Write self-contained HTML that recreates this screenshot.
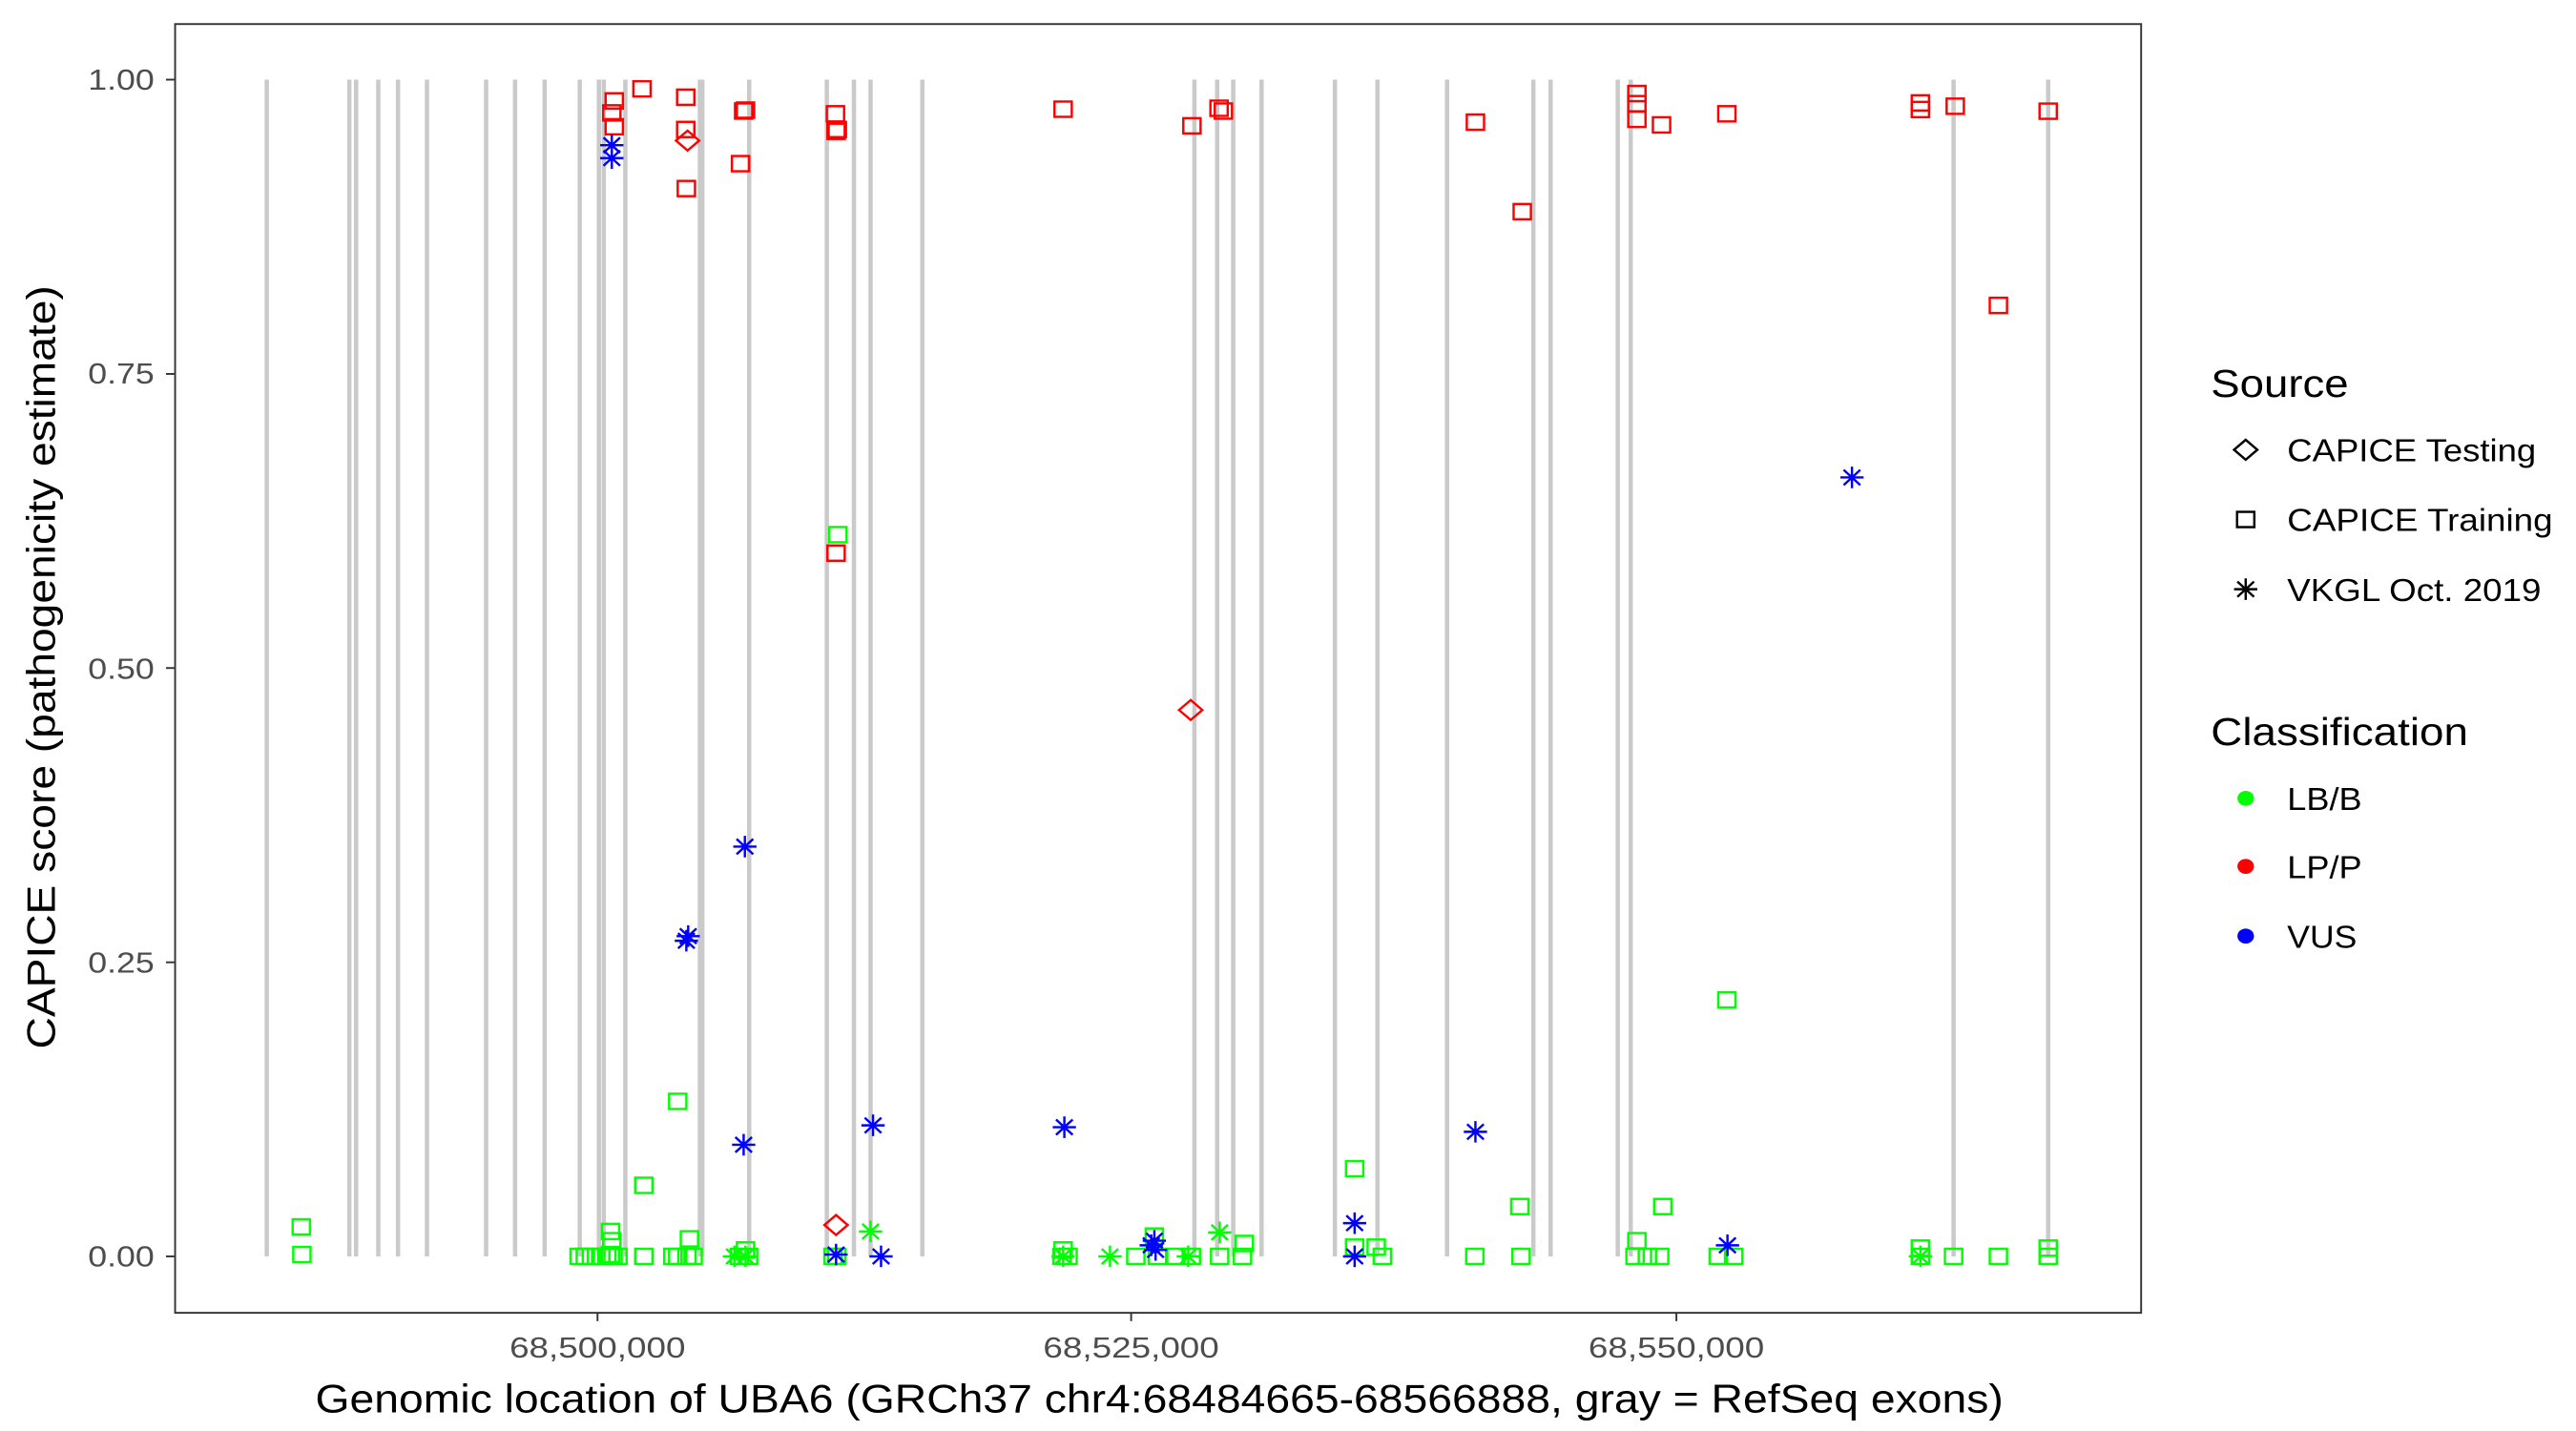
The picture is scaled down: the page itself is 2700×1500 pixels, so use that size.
<!DOCTYPE html>
<html><head><meta charset="utf-8"><style>
html,body{margin:0;padding:0;background:#fff}
svg{display:block}
text{font-family:"Liberation Sans",Arial,sans-serif}
</style></head><body>
<svg id="s" width="2700" height="1500" viewBox="0 0 1552 862.2" preserveAspectRatio="none" xmlns="http://www.w3.org/2000/svg">
<rect x="0" y="0" width="1552" height="862.2" fill="#fff"/>
<g id="ex"></g>
<g id="pts"></g>
<rect x="105.5" y="14.5" width="1184.5" height="776.5" fill="none" stroke="#333" stroke-width="1.1"/>
<g fill="#4d4d4d" font-size="17.5" text-anchor="end">
<text x="93" y="54" textLength="40" lengthAdjust="spacingAndGlyphs">1.00</text>
<text x="93" y="231" textLength="40" lengthAdjust="spacingAndGlyphs">0.75</text>
<text x="93" y="409" textLength="40" lengthAdjust="spacingAndGlyphs">0.50</text>
<text x="93" y="586" textLength="40" lengthAdjust="spacingAndGlyphs">0.25</text>
<text x="93" y="763" textLength="40" lengthAdjust="spacingAndGlyphs">0.00</text>
</g>
<g stroke="#333" stroke-width="1.1">
<line x1="100" x2="105" y1="48" y2="48"/><line x1="100" x2="105" y1="225.3" y2="225.3"/>
<line x1="100" x2="105" y1="402.5" y2="402.5"/><line x1="100" x2="105" y1="579.8" y2="579.8"/>
<line x1="100" x2="105" y1="757" y2="757"/>
<line x1="360" x2="360" y1="791" y2="796"/><line x1="681.5" x2="681.5" y1="791" y2="796"/>
<line x1="1010" x2="1010" y1="791" y2="796"/>
</g>
<g fill="#4d4d4d" font-size="17.5" text-anchor="middle">
<text x="360" y="818" textLength="106" lengthAdjust="spacingAndGlyphs">68,500,000</text>
<text x="681.5" y="818" textLength="106" lengthAdjust="spacingAndGlyphs">68,525,000</text>
<text x="1010" y="818" textLength="106" lengthAdjust="spacingAndGlyphs">68,550,000</text>
</g>
<text x="190" y="851" font-size="24" fill="#000" textLength="1017" lengthAdjust="spacingAndGlyphs">Genomic location of UBA6 (GRCh37 chr4:68484665-68566888, gray = RefSeq exons)</text>
<text transform="translate(33,632) rotate(-90)" font-size="24" fill="#000" textLength="460" lengthAdjust="spacingAndGlyphs">CAPICE score (pathogenicity estimate)</text>
<g font-size="23.5" fill="#000">
<text x="1332" y="239" textLength="83" lengthAdjust="spacingAndGlyphs">Source</text>
<text x="1332" y="449" textLength="155" lengthAdjust="spacingAndGlyphs">Classification</text></g>
<g font-size="19" fill="#000">
<text x="1378" y="278" textLength="150" lengthAdjust="spacingAndGlyphs">CAPICE Testing</text>
<text x="1378" y="320" textLength="160" lengthAdjust="spacingAndGlyphs">CAPICE Training</text>
<text x="1378" y="362" textLength="153" lengthAdjust="spacingAndGlyphs">VKGL Oct. 2019</text>
<text x="1378" y="488" textLength="45" lengthAdjust="spacingAndGlyphs">LB/B</text>
<text x="1378" y="529" textLength="45" lengthAdjust="spacingAndGlyphs">LP/P</text>
<text x="1378" y="571" textLength="42" lengthAdjust="spacingAndGlyphs">VUS</text>
</g>
<g id="leg"></g>
<ellipse cx="1353" cy="481" rx="5" ry="4.5" fill="#00ff00"/>
<ellipse cx="1353" cy="522" rx="5" ry="4.5" fill="#ff0000"/>
<ellipse cx="1353" cy="564" rx="5" ry="4.5" fill="#0000ff"/>
</svg>
<script>
var NS="http://www.w3.org/2000/svg";
function el(p,t,a){var e=document.createElementNS(NS,t);for(var k in a)e.setAttribute(k,a[k]);document.getElementById(p).appendChild(e);return e;}
var ex=[433,567,578,614,646,693,789,836,884,941,972,980,1015,1136,1140,1216,1342,1386,1413,1497].map(function(s){return s*0.3712});
[390,427,453,499,618,687,800,940,968,1077,1098].forEach(function(s){ex.push(574.8+s*0.3713)});
ex.push(1177,1234);
ex.forEach(function(x){el("ex","line",{x1:x,x2:x,y1:48,y2:757,stroke:"#cacaca","stroke-width":2.6})});
var C={g:"#00ff00",r:"#ff0000",b:"#0000ff"};
function Y(v){return 757-709*v}
function sq(p,x,y,c){el(p,"rect",{x:x-5.2,y:y-4.6,width:10.4,height:9.2,fill:"none",stroke:c,"stroke-width":1.4})}
function di(p,x,y,c){el(p,"path",{d:"M"+(x-7)+" "+y+"L"+x+" "+(y-6)+"L"+(x+7)+" "+y+"L"+x+" "+(y+6)+"Z",fill:"none",stroke:c,"stroke-width":1.4})}
function as(p,x,y,c){
 el(p,"path",{d:"M"+(x-7)+" "+y+"H"+(x+7)+"M"+x+" "+(y-6.5)+"V"+(y+6.5)+"M"+(x-5)+" "+(y-4.6)+"L"+(x+5)+" "+(y+4.6)+"M"+(x+5)+" "+(y-4.6)+"L"+(x-5)+" "+(y+4.6),stroke:c,"stroke-width":1.4,fill:"none"})}
var F={s:sq,d:di,a:as};
function vz(y){return (1362-y)/1275}
var z1=[
["s","r",997,110],["s","r",993,123],["s","r",997,138],["s","r",1042,97],["s","r",1113,106],["s","r",1113,141],["s","r",1114,205],["s","r",1207,121],["s","r",1210,120],["s","r",1202,178],["s","r",1356,124],["s","r",1357,143],["s","r",1359,141],["s","r",1357,600],
["d","r",1116,153],["d","r",1357,1328],
["s","g",489,1330],["s","g",490,1360],["s","g",1100,1194],["s","g",1045,1285],["s","g",991,1335],["s","g",993,1345],["s","g",991,1360],
["s","g",940,1362],["s","g",950,1362],["s","g",960,1362],["s","g",975,1362],["s","g",985,1362],["s","g",995,1362],["s","g",1003,1362],["s","g",1045,1362],["s","g",1092,1362],["s","g",1100,1362],["s","g",1115,1362],["s","g",1125,1362],["s","g",1119,1343],["s","g",1200,1362],["s","g",1210,1355],["s","g",1215,1362],["s","g",1360,580],["s","g",1352,1362],["s","g",1358,1362],
["a","g",1192,1362],["a","g",1413,1335],["a","g",1210,1362],
["a","b",993,158],["a","b",993,172],["a","b",1117,1015],["a","b",1114,1020],["a","b",1209,918],["a","b",1207,1241],["a","b",1417,1220],["a","b",1357,1360],["a","b",1430,1362]
];
var z2=[
["s","r",177,119],["s","r",386,137],["s","r",430,118],["s","r",437,121],["s","r",846,133],["s","r",922,230],["s","r",1108,102],["s","r",1108,113],["s","r",1108,130],["s","r",1148,136],["s","r",1254,124],
["d","r",384,770],
["s","g",177,1355],["s","g",185,1362],["s","g",175,1362],["s","g",295,1362],["s","g",325,1340],["s","g",330,1362],["s","g",360,1362],["s","g",385,1362],["s","g",431,1362],["s","g",471,1348],["s","g",468,1362],["s","g",650,1267],["s","g",650,1352],["s","g",685,1352],["s","g",695,1362],["s","g",845,1362],["s","g",918,1308],["s","g",920,1362],["s","g",1108,1345],["s","g",1105,1362],["s","g",1125,1362],["s","g",1145,1362],["s","g",1150,1308],["s","g",1254,1084],["s","g",1240,1362],["s","g",1265,1362],
["a","g",177,1362],["a","g",253,1362],["a","g",431,1336],["a","g",380,1362],
["a","b",179,1222],["a","b",325,1345],["a","b",327,1355],["a","b",320,1350],["a","b",650,1326],["a","b",650,1362],["a","b",846,1227],["a","b",1457,518],["a","b",1255,1350]
];
z1.forEach(function(p){F[p[0]]("pts",p[2]*0.3712,Y(vz(p[3])),C[p[1]])});
z2.forEach(function(p){F[p[0]]("pts",574.8+p[2]*0.3713,Y(vz(p[3])),C[p[1]])});
var z3=[["s","r",1157,62],["s","r",1157,66],["s","r",1178,64],["s","r",1204,184],["s","r",1234,67],
["s","g",1157,752],["s","g",1157,757],["s","g",1177,757],["s","g",1204,757],["s","g",1234,752],["s","g",1234,757],["a","g",1157,757]];
z3.forEach(function(p){F[p[0]]("pts",p[2],p[3],C[p[1]])});
di("leg",1353,271,"#000");sq("leg",1353,313,"#000");as("leg",1353,355,"#000");
</script>
</body></html>
